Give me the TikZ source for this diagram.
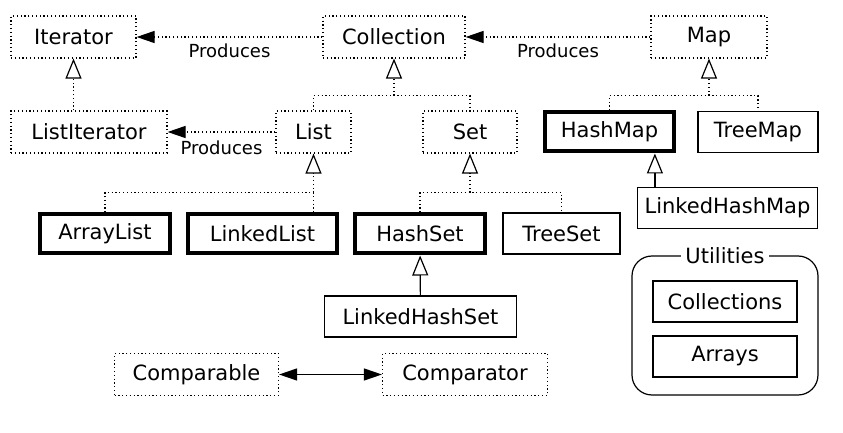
\documentclass[tikz,border=0pt]{standalone}
\usepackage{fontspec}
\setmainfont{DejaVu Sans}
\usepackage{tikz}
\usetikzlibrary{arrows.meta,positioning,calc}

\begin{document}
\begin{tikzpicture}[x=0.5pt, y=-0.5pt,
        dotline/.style={line width=0.6pt, dash pattern=on 0.6pt off 1.3pt},
        iface/.style={draw, dotline, minimum height=21pt, inner sep=0pt, font=\fontsize{10.5}{12}\selectfont},
        impl/.style={draw, line width=0.6pt, minimum height=20.5pt, inner sep=0pt, font=\fontsize{10.5}{12}\selectfont},
        core/.style={impl, line width=2pt, minimum height=19.5pt},
        extends/.style={-{Triangle[open, length=10pt, width=8pt]}},
        produces/.style={-{Triangle[length=9pt, width=6pt]}},
        lbl/.style={font=\fontsize{9}{10}\selectfont}]
        \useasboundingbox (0,0) rectangle (843,433);

        % interfaces
        \node[iface, minimum width=62.5pt] (Iterator) at (73.5,37) {Iterator};
        \node[iface, minimum width=71pt] (Collection) at (394,37) {Collection};
        \node[iface, minimum width=58pt] (Map) at (709,37) {Map};
        \node[iface, minimum width=78pt] (ListIterator) at (89,132) {ListIterator};
        \node[iface, minimum width=37.5pt] (List) at (313.5,132) {List};
        \node[iface, minimum width=47pt] (Set) at (470,132) {Set};

        % classes
        \node[core, minimum width=64.5pt] (HashMap) at (609.5,132) {HashMap};
        \node[impl, minimum width=60pt] (TreeMap) at (758,132) {TreeMap};
        \node[impl, minimum width=90pt] (LinkedHashMap) at (727.5,208) {LinkedHashMap};
        \node[core, minimum width=65pt] (ArrayList) at (105,234) {ArrayList};
        \node[core, minimum width=74.5pt] (LinkedList) at (262.5,234) {LinkedList};
        \node[core, minimum width=65pt] (HashSet) at (420,234) {HashSet};
        \node[impl, minimum width=58.5pt] (TreeSet) at (561.5,233.5) {TreeSet};
        \node[impl, minimum width=96pt] (LinkedHashSet) at (420.5,316.5) {LinkedHashSet};

        \node[iface, minimum width=82pt] (Comparable) at (196.5,374.5) {Comparable};
        \node[iface, minimum width=82.5pt] (Comparator) at (465,374.5) {Comparator};

        % utilities
        \node[draw, line width=0.6pt, rounded corners=10pt, minimum width=93pt, minimum height=69.5pt] (utilbox) at (725,325.5) {};
        \node[fill=white, inner sep=2pt, font=\fontsize{10.5}{12}\selectfont] (utillabel) at (utilbox.north) {Utilities};
        \node[impl, minimum width=72pt] (Collections) at (725,301.5) {Collections};
        \node[impl, minimum width=72pt] (Arrays) at (725,356.5) {Arrays};

        % produces
        \draw[dotline, produces] (Collection) -- (Iterator) node[lbl, midway, below] {Produces};
        \draw[dotline, produces] (Map) -- (Collection) node[lbl, midway, below] {Produces};
        \draw[dotline, produces] (List) -- (ListIterator) node[lbl, midway, below, yshift=-1pt] {Produces};

        % inheritance
        \draw[dotline, extends] (ListIterator.north -| Iterator.south) -- (Iterator.south);

        \coordinate (colljoin) at ($(Collection.south)+(0,37)$);
        \draw[dotline] (List.north) |- (colljoin) -| (Set.north);
        \draw[dotline, extends] (colljoin) -- (Collection.south);

        \coordinate (mapjoin) at ($(Map.south)+(0,37)$);
        \draw[dotline] (HashMap.north) |- (mapjoin) -| (TreeMap.north);
        \draw[dotline, extends] (mapjoin) -- (Map.south);

        \coordinate (listjoin) at ($(List.south)+(0,39)$);
        \draw[dotline] (ArrayList.north) |- (listjoin) -- (List.south |- LinkedList.north);
        \draw[dotline, extends] (listjoin) -- (List.south);

        \coordinate (setjoin) at ($(Set.south)+(0,39)$);
        \draw[dotline] (HashSet.north) |- (setjoin) -| (TreeSet.north);
        \draw[dotline, extends] (setjoin) -- (Set.south);

        \draw[line width=0.6pt, extends] (LinkedHashSet) -- (HashSet);
        \coordinate (lhmtop) at ($(LinkedHashMap.north west)+(9pt,0)$);
        \draw[line width=0.6pt, extends] (lhmtop) -- (lhmtop |- HashMap.south);

        \draw[line width=0.6pt, {Triangle[length=9pt, width=6pt]}-{Triangle[length=9pt, width=6pt]}] (Comparable) -- (Comparator);
    \end{tikzpicture}
\end{document}
